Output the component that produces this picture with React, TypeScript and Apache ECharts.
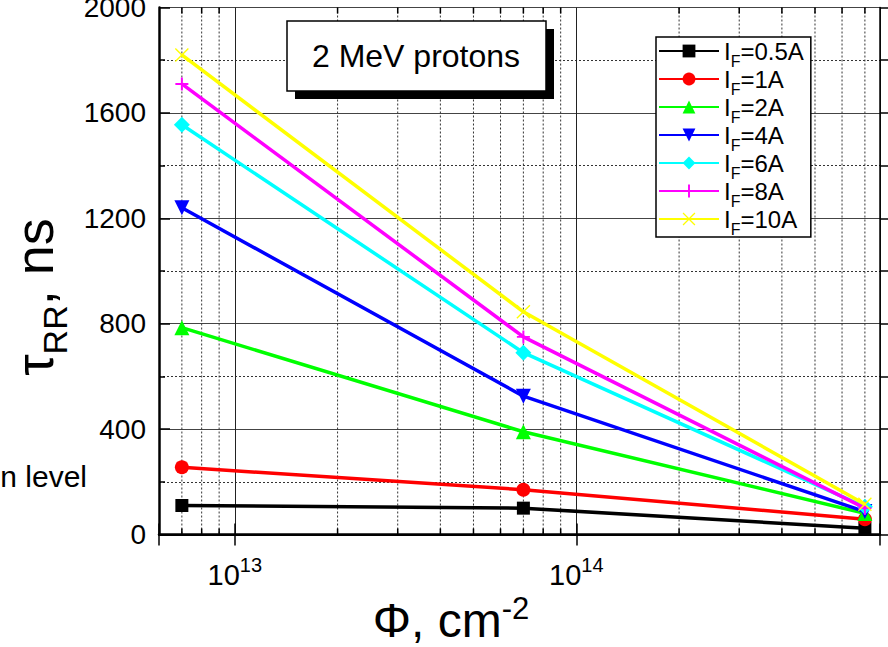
import React, { useEffect, useRef } from 'react';
import * as echarts from 'echarts';

const FONT = '"Liberation Sans", Arial, Helvetica, sans-serif';

// ---- data ----
const fluence = [7e12, 7e13, 7e14];
const currentLabels = ['0.5A', '1A', '2A', '4A', '6A', '8A', '10A'];
const trr_05A = [110, 100, 24];
const trr_1A = [255, 170, 58];
const trr_2A = [785, 390, 80];
const trr_4A = [1240, 525, 87];
const trr_6A = [1555, 690, 105];
const trr_8A = [1710, 750, 100];
const trr_10A = [1820, 845, 115];
const seriesValues = [trr_05A, trr_1A, trr_2A, trr_4A, trr_6A, trr_8A, trr_10A];
const minorFluence = [7e12, 8e12, 9e12, 2e13, 3e13, 4e13, 5e13, 6e13, 7e13, 8e13, 9e13, 2e14, 3e14, 4e14, 5e14, 6e14, 7e14];
const xMin = 6e12;
const xMax = 7.75e14;
const yMin = 0;
const yMax = 2000;
const yInterval = 400;

// ---- styles ----
const colors = ['#000000', '#ff0000', '#00ff00', '#0000ff', '#00ffff', '#ff00ff', '#ffff00'];
const PLUS = 'path://M8.5,0h3v20h-3z M0,8.5h20v3h-20z';
const CROSS = 'path://M0,1.4L1.4,0L10,8.6L18.6,0L20,1.4L11.4,10L20,18.6L18.6,20L10,11.4L1.4,20L0,18.6L8.6,10Z';
const symbols = ['rect', 'circle', 'triangle', 'triangle', 'diamond', PLUS, CROSS];
const symbolRotates = [0, 0, 0, 180, 0, 0, 0];
const symbolSizes = [13, 14, 15, 15, 16, 13, 14];

const seriesName = (c: string) => 'IF=' + c;

export default function App() {
  const ref = useRef<HTMLDivElement>(null);
  useEffect(() => {
    if (!ref.current) return;
    const chart = echarts.init(ref.current, null, { renderer: 'svg' });

    const lineSeries = currentLabels.map((c, i) => ({
      name: seriesName(c),
      type: 'line',
      data: fluence.map((f, j) => [f, seriesValues[i][j]]),
      symbol: symbols[i],
      symbolSize: symbolSizes[i],
      symbolRotate: symbolRotates[i],
      showSymbol: true,
      lineStyle: { color: colors[i], width: 3.5 },
      itemStyle: { color: colors[i] },
      z: 3 + i,
      clip: false,
    }));

    const minorSeries = {
      type: 'custom',
      silent: true,
      z: 1,
      clip: false,
      encode: { x: 0, y: 1 },
      data: minorFluence.map((f) => [f, 0]),
      renderItem: (params: any, api: any) => {
        const v = api.value(0);
        const b = api.coord([v, yMin]);
        const t = api.coord([v, yMax]);
        return {
          type: 'group',
          children: [
            { type: 'line', shape: { x1: b[0], y1: t[1], x2: b[0], y2: b[1] }, style: { stroke: '#333', lineWidth: 1, lineDash: [2, 2] } },
            { type: 'line', shape: { x1: b[0], y1: b[1], x2: b[0], y2: b[1] - 6 }, style: { stroke: '#000', lineWidth: 1.5 } },
            { type: 'line', shape: { x1: b[0], y1: t[1], x2: b[0], y2: t[1] + 6 }, style: { stroke: '#000', lineWidth: 1.5 } },
          ],
        };
      },
    };

    const decadeLabel = (v: number) => {
      const e = Math.log10(v);
      const r = Math.round(e);
      if (Math.abs(e - r) < 1e-6) return `{a|10}{s|${r}}`;
      return '';
    };

    const option: any = {
      animation: false,
      backgroundColor: '#ffffff',
      grid: { left: 159, right: 8, top: 7.5, bottom: 112.5, containLabel: false, outerBoundsMode: 'none' },
      xAxis: [
        {
          type: 'log',
          logBase: 10,
          min: xMin,
          max: xMax,
          position: 'bottom',
          axisLine: { show: true, lineStyle: { color: '#000', width: 2.5 } },
          axisTick: { show: true, inside: true, length: 11, lineStyle: { color: '#000', width: 1.5 } },
          splitLine: { show: true, lineStyle: { color: '#222', width: 1 } },
          axisLabel: {
            margin: 20,
            fontFamily: FONT,
            fontSize: 29,
            color: '#000',
            formatter: decadeLabel,
            rich: {
              a: { fontFamily: FONT, fontSize: 29, color: '#000', lineHeight: 40 },
              s: { fontFamily: FONT, fontSize: 20, color: '#000', lineHeight: 20, verticalAlign: 'top' },
            },
          },
        },
        {
          type: 'log',
          logBase: 10,
          min: xMin,
          max: xMax,
          position: 'top',
          axisLine: { show: true, lineStyle: { color: '#000', width: 2 } },
          axisTick: { show: true, inside: true, length: 11, lineStyle: { color: '#000', width: 1.5 } },
          splitLine: { show: false },
          axisLabel: { show: false },
        },
      ],
      yAxis: [
        {
          type: 'value',
          min: yMin,
          max: yMax,
          interval: yInterval,
          position: 'left',
          axisLine: { show: true, lineStyle: { color: '#000', width: 2.5 } },
          axisTick: { show: true, inside: true, length: 11, lineStyle: { color: '#000', width: 1.5 } },
          minorTick: { show: true, splitNumber: 2, length: 6, lineStyle: { color: '#000', width: 1.5 } },
          splitLine: { show: true, lineStyle: { color: '#444', width: 1 } },
          minorSplitLine: { show: true, lineStyle: { color: '#333', width: 1, type: [2, 2] } },
          axisLabel: { margin: 13, fontFamily: FONT, fontSize: 28, color: '#000', formatter: (v: number) => String(v) },
        },
        {
          type: 'value',
          min: yMin,
          max: yMax,
          interval: yInterval,
          position: 'right',
          axisLine: { show: true, lineStyle: { color: '#000', width: 1.5 } },
          axisTick: { show: true, inside: false, length: 8, lineStyle: { color: '#000', width: 1.5 } },
          minorTick: { show: true, splitNumber: 2, length: 8, lineStyle: { color: '#000', width: 1.5 } },
          splitLine: { show: false },
          axisLabel: { show: false },
        },
      ],
      legend: {
        data: currentLabels.map(seriesName),
        orient: 'vertical',
        left: 656,
        top: 37,
        padding: [2, 7, 0, 2],
        itemWidth: 60,
        itemHeight: 16,
        itemGap: -2,
        backgroundColor: '#ffffff',
        borderColor: '#000',
        borderWidth: 1.5,
        borderRadius: 0,
        selectedMode: false,
        formatter: (name: string) => `{a|I}{b|F}{a|${name.slice(2)}}`,
        textStyle: {
          fontFamily: FONT,
          fontSize: 24,
          rich: {
            a: { fontFamily: FONT, fontSize: 24, color: '#000', lineHeight: 36 },
            b: { fontFamily: FONT, fontSize: 16, color: '#000', lineHeight: 12, verticalAlign: 'bottom' },
          },
        },
        z: 20,
      },
      graphic: [
        { type: 'rect', z: 30, shape: { x: 295, y: 29, width: 259, height: 70 }, style: { fill: '#000' } },
        { type: 'rect', z: 31, shape: { x: 287, y: 21, width: 259, height: 70 }, style: { fill: '#fff', stroke: '#000', lineWidth: 1.5 } },
        { type: 'text', z: 32, x: 416, y: 56, style: { text: '2 MeV protons', fontFamily: FONT, fontSize: 32, fill: '#000', align: 'center', verticalAlign: 'middle' } },
        { type: 'text', z: 32, x: 87, y: 476, style: { text: 'n level', fontFamily: FONT, fontSize: 30, fill: '#000', align: 'right', verticalAlign: 'middle' } },
        {
          type: 'text', z: 32, x: 34, y: 297, rotation: Math.PI / 2,
          style: {
            text: '{a|τ}{b|RR}{a|, ns}', align: 'center', verticalAlign: 'middle', fill: '#000',
            rich: {
              a: { fontFamily: FONT, fontSize: 54, lineHeight: 76, fill: '#000' },
              b: { fontFamily: FONT, fontSize: 34, lineHeight: 34, verticalAlign: 'bottom', fill: '#000' },
            },
          },
        },
        {
          type: 'text', z: 32, x: 451, y: 620,
          style: {
            text: '{a|Φ, cm}{s|-2}', align: 'center', verticalAlign: 'middle', fill: '#000',
            rich: {
              a: { fontFamily: FONT, fontSize: 48, lineHeight: 54, fill: '#000' },
              s: { fontFamily: FONT, fontSize: 31, lineHeight: 31, verticalAlign: 'top', fill: '#000' },
            },
          },
        },
      ],
      series: [minorSeries, ...lineSeries],
    };

    chart.setOption(option);
    return () => chart.dispose();
  }, []);

  return <div ref={ref} style={{ position: 'absolute', left: 0, top: 0, width: 888, height: 647 }} />;
}
